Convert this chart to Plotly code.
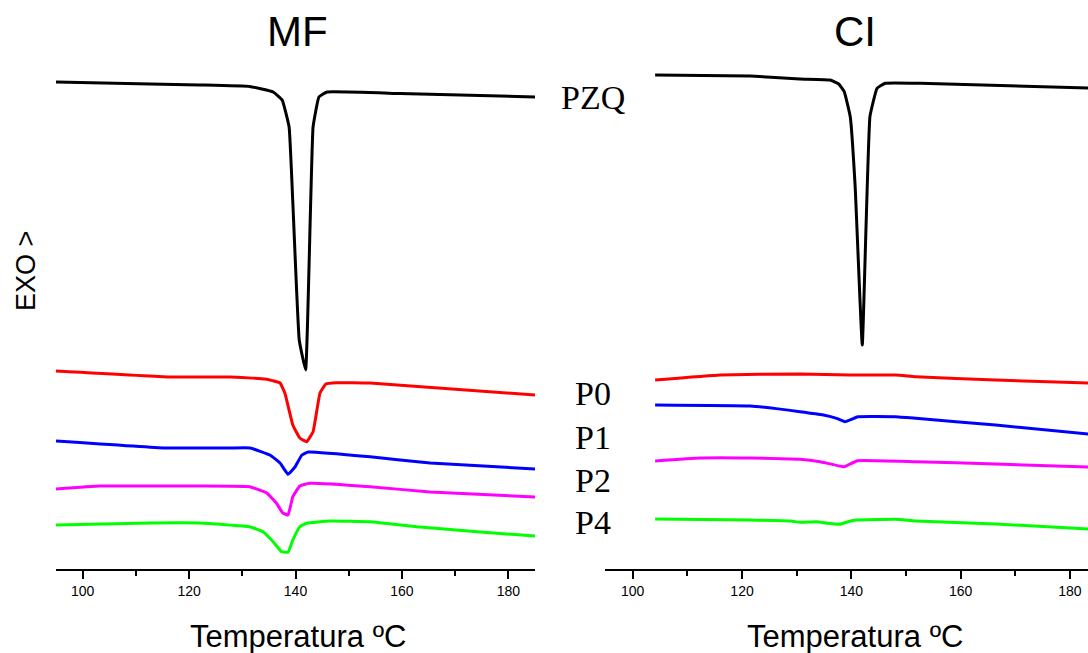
import plotly.graph_objects as go

# ---------------- DATA (heat flow, arbitrary units; larger = higher on chart) ----------------
# MF panel
mf_pzq_T = [95.0, 112.7, 122.0, 131.4, 135.8, 137.5, 138.8, 139.5, 140.7, 141.9, 143.3, 144.4, 145.9, 159.6, 185.0]
mf_pzq_y = [487, 485, 484, 482.5, 477, 469, 442, 366, 229, 199, 442, 472, 477, 475.5, 472]

mf_p0_T = [95.0, 116.4, 127.7, 134.3, 137.1, 138.0, 139.5, 140.8, 142.1, 143.3, 144.6, 145.7, 147.7, 154.0, 185.0]
mf_p0_y = [198, 192, 192, 190, 186, 176, 144, 131, 127.3, 137.3, 176, 185, 186.3, 186, 174]

mf_p1_T = [95.0, 115.5, 127.7, 131.5, 135.2, 137.1, 138.6, 139.9, 141.2, 142.4, 154.0, 165.3, 185.0]
mf_p1_y = [128, 121, 121, 121, 114, 106, 94.7, 102, 114, 117, 112.3, 106, 100]

mf_p2_T = [95.0, 103.3, 122.0, 131.4, 134.6, 136.4, 137.6, 138.6, 139.5, 140.8, 142.6, 154.0, 165.3, 185.0]
mf_p2_y = [80, 83, 83, 82.3, 76, 66, 56, 54, 72.3, 83, 85.7, 82.3, 77, 72]

mf_p4_T = [95.0, 112.7, 122.0, 131.4, 133.9, 135.8, 137.4, 138.6, 139.5, 140.8, 142.1, 146.5, 154.0, 163.4, 174.7, 185.0]
mf_p4_y = [44, 46, 46, 42.3, 37.3, 27.3, 17.3, 16.7, 29, 42.3, 45.7, 48, 47.3, 42, 37, 33]

# CI panel
ci_pzq_T = [104.1, 121.5, 130.6, 136.1, 137.7, 138.7, 139.8, 140.7, 142.0, 143.4, 144.7, 146.2, 152.6, 183.4]
ci_pzq_y = [494, 493, 490, 489, 485, 477.3, 452.3, 382.3, 224, 452.3, 480.7, 485.7, 485.7, 481]

ci_p0_T = [104.1, 116.0, 130.6, 139.8, 148.1, 151.8, 166.4, 183.4]
ci_p0_y = [189, 194, 195, 194, 194, 192.3, 189, 186]

ci_p1_T = [104.1, 121.5, 130.6, 134.9, 137.3, 138.8, 140.0, 141.2, 148.1, 151.8, 166.4, 183.4]
ci_p1_y = [164, 163, 157.3, 154, 150.7, 147.3, 149.7, 152.3, 152.3, 150.7, 144, 135]

ci_p2_T = [104.1, 112.3, 121.5, 130.6, 134.3, 138.7, 141.1, 151.8, 166.4, 183.4]
ci_p2_y = [108, 111, 111, 109.7, 107.3, 102.3, 108.3, 107.3, 105, 102]

ci_p4_T = [104.1, 121.5, 128.9, 130.6, 133.6, 135.7, 137.9, 139.4, 140.9, 148.1, 151.8, 166.4, 183.4]
ci_p4_y = [50, 49, 48, 46.7, 47.3, 45.7, 44.7, 47.3, 49, 49.7, 48, 45, 40]

series_names = ["PZQ", "P0", "P1", "P2", "P4"]
series_colors = ["#000000", "#FF0000", "#0000FF", "#FF00FF", "#00FF00"]

x_ticks = [100, 120, 140, 160, 180]
panel_titles = ["MF", "CI"]
x_title = "Temperatura ºC"
y_title = "EXO >"

# ---------------- FIGURE ----------------
W, H = 1088, 653
AX_Y = 569  # pixel row of x-axis line

fig = go.Figure()

mf = [(mf_pzq_T, mf_pzq_y), (mf_p0_T, mf_p0_y), (mf_p1_T, mf_p1_y), (mf_p2_T, mf_p2_y), (mf_p4_T, mf_p4_y)]
ci = [(ci_pzq_T, ci_pzq_y), (ci_p0_T, ci_p0_y), (ci_p1_T, ci_p1_y), (ci_p2_T, ci_p2_y), (ci_p4_T, ci_p4_y)]

for (t, y), name, col in zip(mf, series_names, series_colors):
    fig.add_trace(go.Scatter(x=t, y=y, mode="lines", name=name,
                             line=dict(color=col, width=3, shape="spline", smoothing=0.3),
                             xaxis="x", yaxis="y", showlegend=False))
for (t, y), name, col in zip(ci, series_names, series_colors):
    fig.add_trace(go.Scatter(x=t, y=y, mode="lines", name=name,
                             line=dict(color=col, width=3, shape="spline", smoothing=0.3),
                             xaxis="x2", yaxis="y2", showlegend=False))

xa_common = dict(
    showline=True, linecolor="black", linewidth=2,
    ticks="outside", ticklen=8, tickwidth=1.5, tickcolor="black",
    tickvals=x_ticks, showgrid=False, zeroline=False,
    tickfont=dict(family="Liberation Sans, Arial, sans-serif", size=14, color="black"),
    minor=dict(dtick=10, tick0=0, ticks="outside", ticklen=5, tickwidth=1.5, tickcolor="black", showgrid=False),
)
ya_common = dict(visible=False, range=[0, AX_Y], showgrid=False, zeroline=False, fixedrange=True)

fig.update_layout(
    width=W, height=H,
    margin=dict(l=0, r=0, t=0, b=H - AX_Y),
    paper_bgcolor="white", plot_bgcolor="white",
    xaxis=dict(domain=[56 / W, 535 / W], range=[95, 185], anchor="y", **xa_common),
    xaxis2=dict(domain=[605 / W, 1.0], range=[94.93, 183.3], anchor="y2", **xa_common),
    yaxis=dict(anchor="x", **ya_common),
    yaxis2=dict(anchor="x2", **ya_common),
)

def py(p):
    return (AX_Y - p) / AX_Y

ann = []
# panel titles
for txt, cx in zip(panel_titles, [297, 855]):
    ann.append(dict(text=txt, x=cx / W, y=py(31), xref="paper", yref="paper",
                    showarrow=False, xanchor="center", yanchor="middle",
                    font=dict(family="Liberation Sans, Arial, sans-serif", size=42, color="black")))
# x titles
for cx in [298, 855]:
    ann.append(dict(text=x_title, x=cx / W, y=py(636), xref="paper", yref="paper",
                    showarrow=False, xanchor="center", yanchor="middle",
                    font=dict(family="Liberation Sans, Arial, sans-serif", size=31, color="black")))
# y title
ann.append(dict(text=y_title, x=26 / W, y=py(271), xref="paper", yref="paper",
                showarrow=False, xanchor="center", yanchor="middle", textangle=-90,
                font=dict(family="Liberation Sans, Arial, sans-serif", size=27, color="black")))
# series labels
for name, cy in zip(series_names, [97, 393, 437, 480, 522]):
    ann.append(dict(text=name, x=593 / W, y=py(cy), xref="paper", yref="paper",
                    showarrow=False, xanchor="center", yanchor="middle",
                    font=dict(family="Liberation Serif, Times New Roman, serif", size=34, color="black")))

fig.update_layout(annotations=ann)

fig.write_html("out.html")
